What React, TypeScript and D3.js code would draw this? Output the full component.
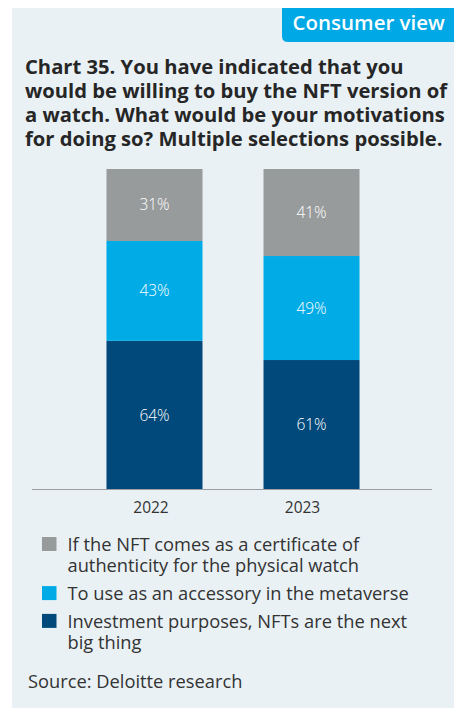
import React from "react";
import * as d3 from "d3";

const years = ["2022", "2023"];
const seriesNames = [
  "Investment purposes, NFTs are the next big thing",
  "To use as an accessory in the metaverse",
  "If the NFT comes as a certificate of authenticity for the physical watch",
];
const investment = [64, 61];
const accessory = [43, 49];
const certificate = [31, 41];
const seriesColors = ["#00497a", "#00abe6", "#989b9c"];

const legendItems = [
  { lines: ["If the NFT comes as a certificate of", "authenticity for the physical watch"], color: "#989b9c" },
  { lines: ["To use as an accessory in the metaverse"], color: "#00abe6" },
  { lines: ["Investment purposes, NFTs are the next", "big thing"], color: "#00497a" },
];

const titleLines = [
  "Chart 35. You have indicated that you",
  "would be willing to buy the NFT version of",
  "a watch. What would be your motivations",
  "for doing so? Multiple selections possible.",
];

const W = 454;
const H = 708;
const FONT = "'Open Sans', 'Noto Sans', sans-serif";

export default function App() {
  const rows = years.map((y, i) => ({
    year: y,
    s0: investment[i],
    s1: accessory[i],
    s2: certificate[i],
  }));
  const keys = ["s0", "s1", "s2"];
  const stacked = d3.stack<any>().keys(keys).offset(d3.stackOffsetExpand)(rows);

  const x = d3.scaleBand().domain(years).range([33, 433]).paddingInner(0.3885).paddingOuter(0.468);
  const y = d3.scaleLinear().domain([0, 1]).range([489.5, 169]);
  const tickX = d3.scalePoint().domain(years).range([151, 302.5]);

  const legendTop = 551;
  const lineH = 21.3;
  const itemGap = 6.5;
  let cursor = legendTop;
  const legendLayout = legendItems.map((it) => {
    const base = cursor;
    cursor += it.lines.length * lineH + itemGap;
    return { ...it, base };
  });

  return (
    <svg width={W} height={H} style={{ position: "absolute", left: 0, top: 0 }} fontFamily={FONT}>
      <rect x={12} y={8} width={W - 12} height={H - 8} fill="#e9f1f5" />
      <path d={`M282,8 H${W} V42 H288 Q282,42 282,36 Z`} fill="#00a9e5" />
      <text x={368.7} y={30} textAnchor="middle" fill="#fff" fontSize={20.5} fontWeight={600}>
        Consumer view
      </text>
      {titleLines.map((t, i) => (
        <text key={i} x={25} y={74 + i * 24} fill="#262626" fontSize={20.2} fontWeight={700}>
          {t}
        </text>
      ))}
      {stacked.map((layer, li) =>
        layer.map((d, i) => {
          const x0 = x(years[i]) as number;
          const y0 = y(d[1]);
          const y1 = y(d[0]);
          const raw = (d.data as any)[keys[li]];
          return (
            <g key={`${li}-${i}`}>
              <rect x={x0} y={y0} width={x.bandwidth()} height={y1 - y0} fill={seriesColors[li]} />
              <text
                x={x0 + x.bandwidth() / 2}
                y={(y0 + y1) / 2 + 5.5}
                textAnchor="middle"
                fill="#fff"
                fontSize={15.5}
                fontWeight={300}
              >
                {raw}%
              </text>
            </g>
          );
        })
      )}
      <line x1={32} x2={432} y1={489.5} y2={489.5} stroke="#9a9ea2" strokeWidth={1} />
      {years.map((yr) => (
        <text key={yr} x={tickX(yr)} y={512.7} textAnchor="middle" fill="#333" fontSize={15.5}>
          {yr}
        </text>
      ))}
      {legendLayout.map((it, i) => (
        <g key={i}>
          <rect x={42} y={it.base - 14} width={14.5} height={14} fill={it.color} />
          {it.lines.map((ln, j) => (
            <text key={j} x={67.5} y={it.base + j * lineH} fill="#333" fontSize={18.3}>
              {ln}
            </text>
          ))}
        </g>
      ))}
      <text x={28} y={688} fill="#333" fontSize={18.3}>
        Source: Deloitte research
      </text>
    </svg>
  );
}
